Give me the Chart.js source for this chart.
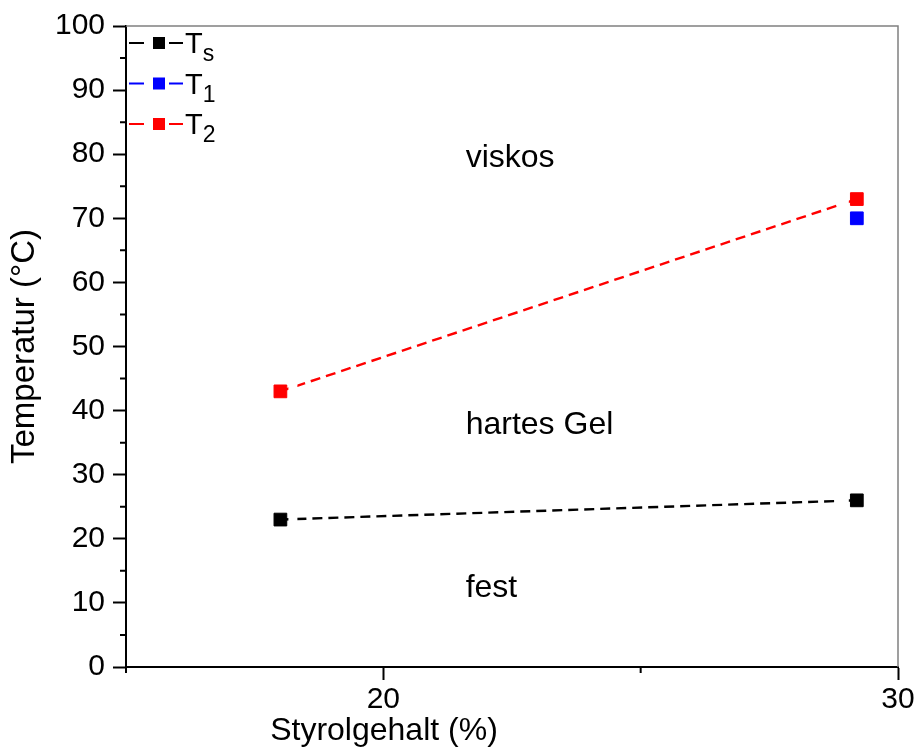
<!DOCTYPE html>
<html>
<head>
<meta charset="utf-8">
<script src="https://cdn.jsdelivr.net/npm/chart.js@4.4.1/dist/chart.umd.min.js"></script>
<style>
  html, body { margin: 0; padding: 0; background: #fff; }
  #wrap { width: 918px; height: 751px; }
</style>
</head>
<body>
<div id="wrap"><canvas id="phaseChart" width="918" height="751"></canvas></div>
<script>
// Styrolgehalt (%) und Übergangstemperaturen (°C)
var styrol = [18, 29.2];
var tempS = [23, 26];
var styrolT1 = [29.2];
var temp1 = [70];
var temp2 = [43, 73];

var xLabels = [20, 30];
var yLabels = [0, 10, 20, 30, 40, 50, 60, 70, 80, 90, 100];

var seriesNames = ["T", "T", "T"];
var seriesSubs = ["s", "1", "2"];
var seriesColors = ["#000000", "#0000ff", "#ff0000"];

var zoneNames = ["viskos", "hartes Gel", "fest"];
var zoneAt = [[21.6, 78], [21.6, 36.3], [21.6, 10.9]];

var xTitle = "Styrolgehalt (%)";
var FONT = "'Liberation Sans', Arial, sans-serif";

function points(xs, ys) {
    return xs.map(function (x, i) { return { x: x, y: ys[i] }; });
}

function series(i, data) {
    return {
        label: seriesNames[i] + seriesSubs[i],
        data: data,
        showLine: true,
        borderColor: seriesColors[i],
        backgroundColor: seriesColors[i],
        borderWidth: 2.4,
        borderDash: [10, 6],
        pointStyle: "rect",
        pointRadius: 9,
        pointBorderWidth: 1,
        pointBorderColor: seriesColors[i]
    };
}

// Linie setzt kurz vor den Symbolen aus (Ring um jeden Punkt ausblenden)
var markerGap = {
    id: "markerGap",
    beforeDatasetDraw: function (chart, args) {
        var ctx = chart.ctx;
        ctx.save();
        ctx.beginPath();
        ctx.rect(0, 0, chart.width, chart.height);
        args.meta.data.forEach(function (p) {
            ctx.rect(p.x - 17, p.y - 17, 34, 34);
            ctx.rect(p.x - 8, p.y - 8, 16, 16);
        });
        ctx.clip("evenodd");
    },
    afterDatasetDraw: function (chart) {
        chart.ctx.restore();
    }
};

// Rahmen oben/rechts, kleine Ticks, Legende, Bereichsnamen, x-Titel
var extras = {
    id: "extras",
    afterDraw: function (chart) {
        var ctx = chart.ctx;
        var a = chart.chartArea;
        var xs = chart.scales.x, ys = chart.scales.y;
        ctx.save();

        ctx.strokeStyle = "#808080";
        ctx.lineWidth = 1.5;
        ctx.beginPath();
        ctx.moveTo(a.left, a.top);
        ctx.lineTo(a.right, a.top);
        ctx.lineTo(a.right, a.bottom);
        ctx.stroke();

        ctx.strokeStyle = "#000";
        ctx.lineWidth = 2;
        ctx.beginPath();
        xs.ticks.forEach(function (t) {
            if (xLabels.indexOf(t.value) < 0) {
                var px = xs.getPixelForValue(t.value);
                ctx.moveTo(px, a.bottom);
                ctx.lineTo(px, a.bottom + 6);
            }
        });
        ys.ticks.forEach(function (t) {
            if (yLabels.indexOf(t.value) < 0) {
                var py = ys.getPixelForValue(t.value);
                ctx.moveTo(a.left, py);
                ctx.lineTo(a.left - 6, py);
            }
        });
        ctx.stroke();

        // Legende
        chart.data.datasets.forEach(function (ds, i) {
            var y = a.top + 17 + i * 40.5;
            var x0 = a.left + 3;
            ctx.strokeStyle = seriesColors[i];
            ctx.lineWidth = 2;
            ctx.beginPath();
            ctx.moveTo(x0, y); ctx.lineTo(x0 + 15, y);
            ctx.moveTo(x0 + 40, y); ctx.lineTo(x0 + 54, y);
            ctx.stroke();
            ctx.fillStyle = seriesColors[i];
            ctx.fillRect(x0 + 24, y - 6, 12, 12);
            ctx.fillStyle = "#000";
            ctx.textBaseline = "alphabetic";
            ctx.textAlign = "left";
            ctx.font = "29px " + FONT;
            ctx.fillText(seriesNames[i], x0 + 56, y + 10);
            var w = ctx.measureText(seriesNames[i]).width;
            ctx.font = "23px " + FONT;
            ctx.fillText(seriesSubs[i], x0 + 56 + w, y + 18);
        });

        ctx.font = "32px " + FONT;
        ctx.fillStyle = "#000";
        ctx.textAlign = "left";
        ctx.textBaseline = "alphabetic";
        zoneNames.forEach(function (name, i) {
            ctx.fillText(name, xs.getPixelForValue(zoneAt[i][0]), ys.getPixelForValue(zoneAt[i][1]));
        });

        ctx.textAlign = "center";
        ctx.fillText(xTitle, a.left + 258, a.bottom + 73);
        ctx.restore();
    }
};

Chart.defaults.font.family = FONT;
Chart.defaults.color = "#000";

new Chart(document.getElementById("phaseChart").getContext("2d"), {
    type: "scatter",
    data: {
        datasets: [
            series(0, points(styrol, tempS)),
            series(1, points(styrolT1, temp1)),
            series(2, points(styrol, temp2))
        ]
    },
    options: {
        responsive: false,
        animation: false,
        devicePixelRatio: 1,
        layout: { padding: { top: 25, right: 20, left: 0, bottom: 0 } },
        plugins: { legend: { display: false }, tooltip: { enabled: false } },
        scales: {
            x: {
                type: "linear",
                min: 15,
                max: 30,
                afterFit: function (s) { s.height = 84; },
                border: { color: "#000", width: 2 },
                grid: {
                    drawOnChartArea: false,
                    tickLength: 13,
                    tickWidth: 2,
                    tickColor: function (c) { return xLabels.indexOf(c.tick.value) >= 0 ? "#000" : "rgba(0,0,0,0)"; }
                },
                ticks: {
                    stepSize: 5,
                    autoSkip: false,
                    maxRotation: 0,
                    padding: 2,
                    font: { size: 30 },
                    callback: function (v) { return xLabels.indexOf(v) >= 0 ? String(v) : ""; }
                }
            },
            y: {
                min: 0,
                max: 100,
                afterFit: function (s) { s.width = 126; },
                border: { color: "#000", width: 2 },
                grid: {
                    drawOnChartArea: false,
                    tickLength: 13,
                    tickWidth: 2,
                    tickColor: function (c) { return yLabels.indexOf(c.tick.value) >= 0 ? "#000" : "rgba(0,0,0,0)"; }
                },
                ticks: {
                    stepSize: 5,
                    autoSkip: false,
                    padding: 8,
                    font: { size: 30 },
                    callback: function (v) { return yLabels.indexOf(v) >= 0 ? String(v) : ""; }
                },
                title: { display: true, text: "Temperatur (°C)", font: { size: 33 }, padding: { top: 5, bottom: 0 } }
            }
        }
    },
    plugins: [markerGap, extras]
});
</script>
</body>
</html>
